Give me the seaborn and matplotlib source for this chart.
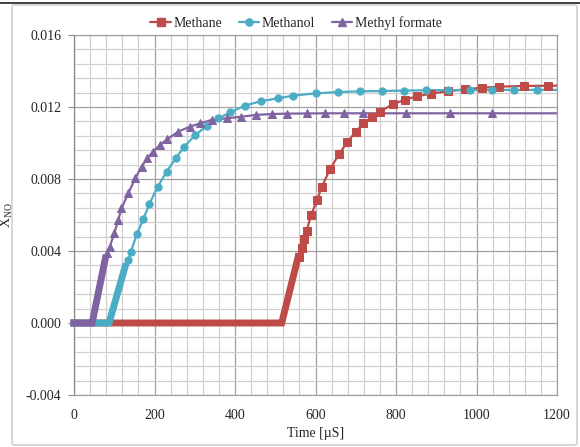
import numpy as np
import pandas as pd
import matplotlib
matplotlib.use("Agg")
import matplotlib.pyplot as plt
from matplotlib.lines import Line2D
from matplotlib.patches import FancyBboxPatch
from matplotlib.ticker import MultipleLocator, FormatStrFormatter
import seaborn as sns

# ---- NO mole fraction vs time (µs) ----
# Finely sampled start of each run (flat induction period + initial rise)
methane_fine_t = [0, 516, 557]
methane_fine_x = [0.0, 0.0, 0.00368]
methanol_fine_t = [0, 87, 127]
methanol_fine_x = [0.0, 0.0, 0.00313]
mf_fine_t = [0, 45, 78]
mf_fine_x = [0.0, 0.0, 0.00360]

# Coarser output after the rise
methane_t = [560, 566, 572, 578, 589, 604, 615, 636, 658, 679, 700, 719, 740,
             760, 792, 823, 853, 886, 930, 971, 1013, 1057, 1118, 1177, 1240]
methane_x = [0.00368, 0.00419, 0.00465, 0.00511, 0.00600, 0.00683, 0.00754,
             0.00854, 0.00937, 0.01004, 0.01063, 0.01109, 0.01143, 0.01174,
             0.01215, 0.01241, 0.01260, 0.01274, 0.01288, 0.01298, 0.01307,
             0.01313, 0.01317, 0.01318, 0.01320]

methanol_t = [135, 141, 156, 172, 187, 208, 230, 253, 274, 301, 330, 359, 388,
              425, 464, 506, 545, 600, 655, 711, 765, 820, 875, 930, 984, 1039,
              1094, 1150, 1250]
methanol_x = [0.00350, 0.00394, 0.00493, 0.00576, 0.00660, 0.00757, 0.00841,
              0.00915, 0.00980, 0.01044, 0.01094, 0.01137, 0.01170, 0.01208,
              0.01232, 0.01248, 0.01263, 0.01276, 0.01283, 0.01287, 0.01289,
              0.01291, 0.01293, 0.01294, 0.01294, 0.01295, 0.01295, 0.01295,
              0.01295]

mf_t = [81, 89, 100, 110, 118, 135, 152, 168, 182, 196, 214, 232, 259, 288,
        313, 342, 379, 416, 452, 491, 528, 578, 624, 671, 719, 826, 933, 1039,
        1250]
mf_x = [0.00387, 0.00424, 0.00498, 0.00572, 0.00637, 0.00720, 0.00804,
        0.00869, 0.00915, 0.00952, 0.00989, 0.01022, 0.01063, 0.01091,
        0.01109, 0.01128, 0.01137, 0.01146, 0.01156, 0.01161, 0.01163,
        0.01164, 0.01165, 0.01165, 0.01165, 0.01165, 0.01165, 0.01165,
        0.01165]

series_names = ["Methane", "Methanol", "Methyl formate"]
x_ticks = [0, 200, 400, 600, 800, 1000, 1200]
y_ticks = [-0.004, 0.000, 0.004, 0.008, 0.012, 0.016]

sns.set_style("white")
plt.rcParams["font.family"] = ["Liberation Serif", "DejaVu Serif"]
plt.rcParams["mathtext.fontset"] = "custom"
plt.rcParams["mathtext.rm"] = "Liberation Serif"
plt.rcParams["mathtext.it"] = "Liberation Serif:italic"
plt.rcParams["axes.unicode_minus"] = False

colors = {"Methane": "#BE4B48", "Methanol": "#4BACC6", "Methyl formate": "#8064A2"}
markers = {"Methane": "s", "Methanol": "o", "Methyl formate": "^"}

fig = plt.figure(figsize=(5.8, 4.47), dpi=100)
ax = fig.add_axes([74 / 580, 1 - 395 / 447, (557 - 74) / 580, (395 - 35) / 447])

# figure frame
fig.patches.append(FancyBboxPatch((12 / 580, 2 / 447), 565 / 580, 440 / 447,
                                  boxstyle="round,pad=0,rounding_size=0.004",
                                  transform=fig.transFigure, fill=False,
                                  edgecolor="#C8C8C8", linewidth=1.0))
fig.lines.append(Line2D([0, 1], [1 - 2.5 / 447] * 2, transform=fig.transFigure,
                        color="#404040", linewidth=1.4))

data = {
    "Methane": (methane_fine_t, methane_fine_x, methane_t, methane_x),
    "Methanol": (methanol_fine_t, methanol_fine_x, methanol_t, methanol_x),
    "Methyl formate": (mf_fine_t, mf_fine_x, mf_t, mf_x),
}

for name in series_names:
    ft, fx, ct, cx = data[name]
    c = colors[name]
    # densely sampled portion: overlapping markers read as a thick band
    sns.lineplot(x=ft, y=fx, ax=ax, color=c, linewidth=5.0, sort=False,
                 estimator=None, solid_capstyle="projecting",
                 solid_joinstyle="miter", clip_on=False, zorder=3)
    sns.lineplot(x=[ft[-1]] + ct, y=[fx[-1]] + cx, ax=ax, color=c,
                 linewidth=1.6, sort=False, estimator=None, zorder=3)
    sns.lineplot(x=ct, y=cx, ax=ax, color=c, linewidth=0, marker=markers[name],
                 markersize=5.2, markeredgecolor=c, markerfacecolor=c,
                 sort=False, estimator=None, zorder=4)

ax.set_xlim(0, 1200)
ax.set_ylim(-0.004, 0.016)
ax.set_xticks(x_ticks)
ax.set_yticks(y_ticks)
ax.yaxis.set_major_formatter(FormatStrFormatter("%.3f"))
ax.xaxis.set_minor_locator(MultipleLocator(40))
ax.yaxis.set_minor_locator(MultipleLocator(0.0008))
ax.grid(which="major", color="#A0A0A0", linewidth=0.9)
ax.grid(which="minor", color="#D0D0D0", linewidth=0.9)
ax.set_axisbelow(True)
ax.tick_params(axis="y", which="major", length=4, width=0.8, color="#888888",
               pad=5, labelsize=10, direction="out", left=True)
ax.tick_params(axis="x", which="major", length=0, pad=10, labelsize=10)
ax.tick_params(which="minor", length=0)
for side, sp in ax.spines.items():
    sp.set_color("#A0A0A0")
    sp.set_linewidth(0.9)
ax.spines["left"].set_color("#888888")

ax.set_xlabel("Time [µS]", fontsize=10, labelpad=4)
ax.set_ylabel(r"X$_{\rm NO}$", fontsize=10, labelpad=8)

handles = [Line2D([0], [0], color=colors[n], linewidth=1.6, marker=markers[n],
                  markersize=5.2, markeredgecolor=colors[n]) for n in series_names]
fig.legend(handles, series_names, loc="center", ncol=3, frameon=False,
           bbox_to_anchor=(296 / 580, 1 - 23 / 447), fontsize=10,
           handlelength=1.45, handletextpad=0.2, columnspacing=1.2,
           borderaxespad=0)

fig.savefig("out.png", dpi=100)
